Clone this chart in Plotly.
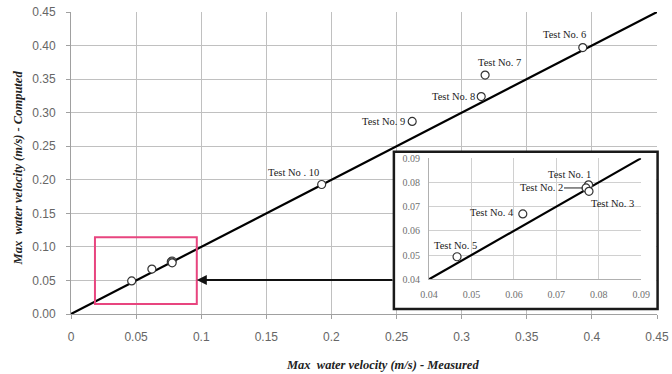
import plotly.graph_objects as go

tests = ["Test No. 1", "Test No. 2", "Test No. 3", "Test No. 4", "Test No. 5",
         "Test No. 6", "Test No. 7", "Test No. 8", "Test No. 9", "Test No . 10"]
measured = [0.0776, 0.0770, 0.0777, 0.0621, 0.0466, 0.393, 0.318, 0.315, 0.262, 0.1925]
computed = [0.0790, 0.0777, 0.0763, 0.0670, 0.0493, 0.397, 0.356, 0.324, 0.287, 0.193]

main_ticks = [0, 0.05, 0.1, 0.15, 0.2, 0.25, 0.3, 0.35, 0.4, 0.45]
main_xlabels = ["0", "0.05", "0.1", "0.15", "0.2", "0.25", "0.3", "0.35", "0.4", "0.45"]
main_ylabels = ["0.00", "0.05", "0.10", "0.15", "0.20", "0.25", "0.30", "0.35", "0.40", "0.45"]
inset_ticks = [0.04, 0.05, 0.06, 0.07, 0.08, 0.09]
inset_labels = ["0.04", "0.05", "0.06", "0.07", "0.08", "0.09"]
main_line = [0, 0.45]
inset_line = [0.04, 0.09]
zoom_box_x = [0.0184, 0.0966]
zoom_box_y = [0.0149, 0.1143]

SERIF = "Liberation Serif, Times New Roman, serif"
SANS = "Liberation Sans, Arial, sans-serif"

fig = go.Figure()

marker = dict(size=8, color="white", line=dict(color="#333333", width=1.2))

# main chart
fig.add_trace(go.Scatter(x=main_line, y=main_line, mode="lines",
                         line=dict(color="black", width=2.2), xaxis="x", yaxis="y",
                         showlegend=False, hoverinfo="skip"))
fig.add_trace(go.Scatter(x=measured, y=computed, mode="markers", marker=marker,
                         xaxis="x", yaxis="y", showlegend=False))

# inset chart
ins_x = measured[:5]
ins_y = computed[:5]
fig.add_trace(go.Scatter(x=inset_line, y=inset_line, mode="lines",
                         line=dict(color="black", width=2.2), xaxis="x2", yaxis="y2",
                         showlegend=False, hoverinfo="skip"))
fig.add_trace(go.Scatter(x=ins_x, y=ins_y, mode="markers", marker=marker,
                         xaxis="x2", yaxis="y2", showlegend=False, cliponaxis=False))

grid = "#c0c0c0"
fig.update_layout(
    width=672, height=374,
    margin=dict(l=71, r=15, t=12, b=60),
    paper_bgcolor="white", plot_bgcolor="white",
    xaxis=dict(range=[0, 0.45], tickvals=main_ticks, ticktext=main_xlabels,
               showgrid=True, gridcolor=grid, gridwidth=1,
               showline=True, linecolor="#a0a0a0", linewidth=1,
               ticks="outside", ticklen=4, tickcolor="#a0a0a0",
               tickfont=dict(family=SANS, size=12, color="#666666"),
               ticklabelstandoff=8, ticklabeloverflow="allow",
               zeroline=False, domain=[0, 1], automargin=False),
    yaxis=dict(range=[0, 0.45], tickvals=main_ticks, ticktext=main_ylabels,
               showgrid=True, gridcolor=grid, gridwidth=1,
               showline=True, linecolor="#a0a0a0", linewidth=1,
               ticks="outside", ticklen=4, tickcolor="#a0a0a0",
               tickfont=dict(family=SANS, size=12, color="#666666"),
               ticklabelstandoff=8, ticklabeloverflow="allow",
               zeroline=False, domain=[0, 1], automargin=False),
    xaxis2=dict(range=[0.04, 0.09], tickvals=inset_ticks, ticktext=inset_labels,
                domain=[0.611, 0.973], anchor="y2",
                showgrid=True, gridcolor="#d0d0d0", gridwidth=1,
                showline=True, linecolor="#b0b0b0", zeroline=False,
                tickfont=dict(family=SERIF, size=10, color="#707070"),
                ticklabelstandoff=6, ticklabeloverflow="allow", automargin=False),
    yaxis2=dict(range=[0.04, 0.09], tickvals=inset_ticks, ticktext=inset_labels,
                domain=[0.115, 0.516], anchor="x2",
                showgrid=True, gridcolor="#d0d0d0", gridwidth=1,
                showline=True, linecolor="#b0b0b0", zeroline=False,
                tickfont=dict(family=SERIF, size=10, color="#707070"),
                ticklabelstandoff=6, ticklabeloverflow="allow", automargin=False),
)

# white background of inset (between main gridlines and traces)
fig.add_shape(type="rect", xref="x", yref="y", x0=0.248, x1=0.4495, y0=0.0075, y1=0.2414,
              fillcolor="white", line=dict(width=0), layer="between")
# inset frame
fig.add_shape(type="rect", xref="paper", yref="paper", x0=0.551, x1=1.001, y0=0.0166, y1=0.537,
              fillcolor="rgba(0,0,0,0)", line=dict(color="#1a1a1a", width=2.5), layer="above")
# pink zoom box
fig.add_shape(type="rect", xref="x", yref="y", x0=zoom_box_x[0], x1=zoom_box_x[1],
              y0=zoom_box_y[0], y1=zoom_box_y[1],
              line=dict(color="#e8457f", width=2), layer="above")

# arrow from inset to zoom box
fig.add_annotation(x=zoom_box_x[1], y=0.0507, xref="x", yref="y",
                   ax=0.248, ay=0.0507, axref="x", ayref="y",
                   showarrow=True, arrowhead=2, arrowsize=1, arrowwidth=2,
                   arrowcolor="#111111", text="", standoff=0)

lab_font = dict(family=SERIF, size=10.5, color="#222222")
# labels for main points (tests 6-10)
main_offsets = {5: (-18, 13), 6: (14, 13), 7: (-28, 0), 8: (-29, 0), 9: (-28, 12)}
for i, (dx, dy) in main_offsets.items():
    fig.add_annotation(x=measured[i], y=computed[i], xref="x", yref="y", text=tests[i],
                       showarrow=False, xshift=dx, yshift=dy, font=lab_font)
# labels for inset points (tests 1-5)
inset_offsets = {0: (-19, 10), 3: (-31, 1), 4: (-2, 11), 2: (24, -12)}
for i, (dx, dy) in inset_offsets.items():
    fig.add_annotation(x=measured[i], y=computed[i], xref="x2", yref="y2", text=tests[i],
                       showarrow=False, xshift=dx, yshift=dy, font=lab_font)
fig.add_annotation(x=measured[1], y=computed[1], xref="x2", yref="y2", text=tests[1],
                   showarrow=True, ax=-45, ay=0, arrowhead=0, arrowwidth=1,
                   arrowcolor="#222222", standoff=3, font=lab_font)

# axis titles
title_font = dict(family=SERIF, size=12.5, color="#222222")
fig.add_annotation(text="<b><i>Max  water velocity (m/s) - Measured</i></b>",
                   xref="paper", yref="paper", x=0.531, y=-0.169, showarrow=False,
                   xanchor="center", yanchor="middle", font=title_font)
fig.add_annotation(text="<b><i>Max  water velocity (m/s) - Computed</i></b>",
                   xref="paper", yref="paper", x=-0.09, y=0.483, showarrow=False,
                   xanchor="center", yanchor="middle", textangle=-90, font=title_font)

fig.write_html("out.html", config={"displayModeBar": False},
               post_script="document.body.style.margin='0';document.body.style.overflow='hidden';")
